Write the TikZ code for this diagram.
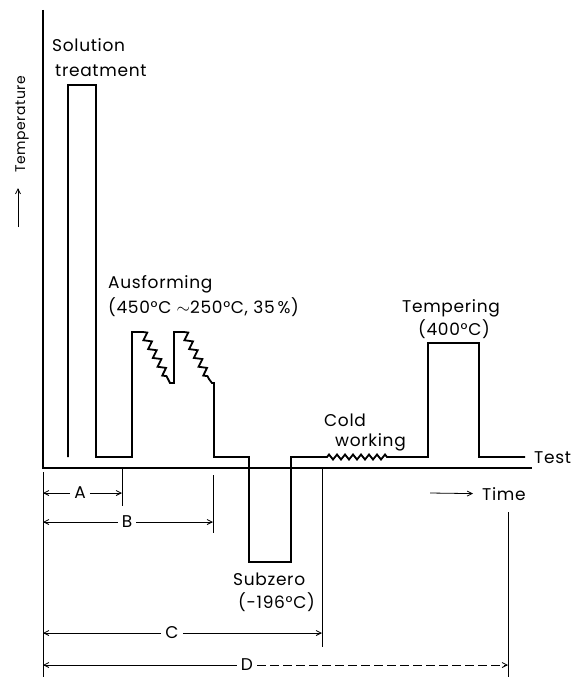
\documentclass[tikz,border=0pt]{standalone}
\usepackage{fontspec}
\setmainfont{Poppins}[LetterSpace=4]
\usetikzlibrary{arrows.meta, decorations.pathmorphing}

\begin{document}
\begin{tikzpicture}[x=1pt, y=-1pt, >={Straight Barb[length=5pt,width=5pt]},
    lbl/.style={font=\fontsize{17}{20}\selectfont, inner sep=0pt},
    dimlbl/.style={font=\fontsize{17}{20}\selectfont, inner sep=4pt},
    dimline/.style={line width=0.8pt},
    profile/.style={line width=1.8pt, line join=miter},
    zz/.style={decoration={zigzag, segment length=10pt, amplitude=3.5pt}},
    zzcold/.style={decoration={zigzag, segment length=8pt, amplitude=2.5pt}}]
        \useasboundingbox (0,0) rectangle (570,677);
        \pgfmathsetmacro{\base}{457}
        \pgfmathsetmacro{\axis}{468}

        % axes
        \coordinate (O) at (43,\axis);
        \draw[line width=1.1pt] (43,10) -- (O) -- (532,\axis);

        % heat treatment profile
        \draw[profile] (68,\base) -- (68,85) -- (96,85) -- (96,\base) -- (132,\base) -- (132,332) -- (143,332)
            decorate[zz] {-- (168,379)} -- (170,383) -- (174,383) -- (174,332) -- (184,332)
            decorate[zz] {-- (209,379)} -- (212,383) -- (214,383) -- (214,\base) -- (249,\base)
            -- (249,562) -- (291,562) -- (291,\base) -- (327,\base)
            decorate[zzcold] {-- (387,\base)} -- (428,\base) -- (428,343) -- (479,343) -- (479,\base) -- (525,\base);

        % labels
        \node[lbl, font=\fontsize{14}{18}\selectfont, rotate=90, anchor=base west] (temp) at (25,173) {Temperature};
        \coordinate (T0) at (18,227);
        \draw[dimline, ->, shorten >=15pt] (T0) -- (T0 |- temp.west);
        \node[lbl, anchor=base west] (sol1) at (52,52) {Solution};
        \node[lbl, anchor=base west] (sol2) at (55,76) {treatment};
        \node[lbl, anchor=base west] (aus1) at (108,288) {Ausforming};
        \node[lbl, anchor=base west] (aus2) at (108,313) {(450°C $\sim$250°C, 35\,\%)};
        \node[lbl, anchor=base west] (temp1) at (402,312) {Tempering};
        \node[lbl, anchor=base west] (temp2) at (418,335) {(400°C)};
        \node[lbl, anchor=base west] (cold1) at (324,426) {Cold};
        \node[lbl, anchor=base west] (cold2) at (335,446) {working};
        \node[lbl, anchor=base west] (test) at (534,463) {Test};
        \node[lbl, anchor=base west] (sub1) at (233,585) {Subzero};
        \node[lbl, anchor=base west] (sub2) at (238,608) {(-196°C)};
        \node[lbl, anchor=base west] (time) at (482,500) {Time};
        \coordinate (t0) at (430,493);
        \draw[dimline, ->] (t0) -- ([xshift=-9pt]time.west);

        % dimension ticks
        \draw[dimline] (43,472) -- (43,677);
        \draw[dimline] (122,469) -- (122,506);
        \draw[dimline] (213,475) -- (213,533);
        \draw[dimline] (322,469) -- (322,647);
        \draw[dimline] (508,512) -- (508,677);

        % dimension arrows
        \node[dimlbl] (A) at (80,493) {A};
        \coordinate (A0) at (43,493);
        \coordinate (A1) at (122,493);
        \draw[dimline, ->] (A) -- (A0);
        \draw[dimline, ->] (A) -- (A1);
        \node[dimlbl] (B) at (127,522) {B};
        \coordinate (B0) at (43,522);
        \coordinate (B1) at (213,522);
        \draw[dimline, ->] (B) -- (B0);
        \draw[dimline, ->] (B) -- (B1);
        \node[dimlbl] (C) at (172,633) {C};
        \coordinate (C0) at (43,633);
        \coordinate (C1) at (322,633);
        \draw[dimline, ->] (C) -- (C0);
        \draw[dimline, ->] (C) -- (C1);
        \node[dimlbl] (D) at (247,665) {D};
        \coordinate (D0) at (43,665);
        \coordinate (D1) at (508,665);
        \draw[dimline, ->] (D) -- (D0);
        \draw[dimline, ->, dash pattern=on 9pt off 4pt] (D) -- (D1);
\end{tikzpicture}
\end{document}
